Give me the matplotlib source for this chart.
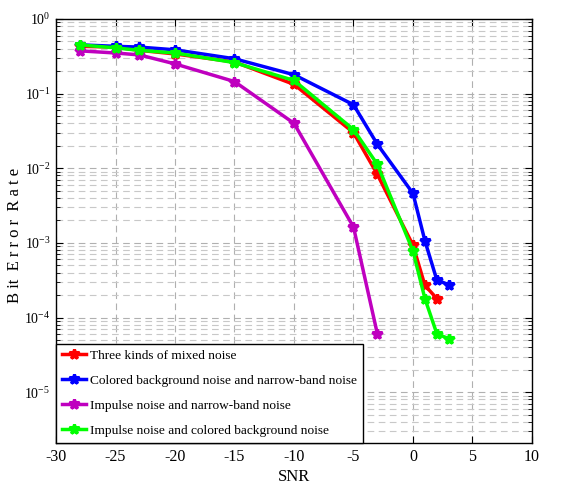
import numpy as np
import matplotlib
matplotlib.use('Agg')
import matplotlib.pyplot as plt
from matplotlib.ticker import LogLocator, NullFormatter

plt.rcParams['font.family'] = ['Liberation Serif', 'DejaVu Serif']
plt.rcParams['mathtext.fontset'] = 'stix'
plt.rcParams['axes.unicode_minus'] = False

# SNR points and BER per noise case
snr_full = [-28, -25, -23, -20, -15, -10, -5, -3, 0, 1, 2, 3]
ber_mixed = [0.43, 0.42, 0.38, 0.34, 0.265, 0.133, 0.030, 0.0083, 0.00093, 0.00027, 0.00018]
ber_colored_nb = [0.45, 0.43, 0.42, 0.386, 0.293, 0.179, 0.071, 0.021, 0.0046, 0.00107, 0.00032, 0.000275]
ber_impulse_nb = [0.374, 0.35, 0.33, 0.25, 0.145, 0.040, 0.00163, 0.000061]
ber_impulse_colored = [0.45, 0.41, 0.38, 0.35, 0.26, 0.15, 0.033, 0.0113, 0.00078, 0.00018, 0.000061, 0.000052]

labels = ['Three kinds of mixed noise',
          'Colored background noise and narrow-band noise',
          'Impulse noise and narrow-band noise',
          'Impulse noise and colored background noise']
colors = ['#FF0000', '#0000FF', '#BF00BF', '#00FF00']
series = [ber_mixed, ber_colored_nb, ber_impulse_nb, ber_impulse_colored]

fig = plt.figure(figsize=(5.68, 4.86), dpi=100)
ax = fig.add_axes([0.0986, 0.0885, 0.838, 0.8725])

for ys, c, lab in zip(series, colors, labels):
    xs = snr_full[:len(ys)]
    ax.plot(xs, ys, color=c, lw=2.5, marker='*', ms=7, mew=2.2, label=lab)

ax.set_yscale('log')
ax.set_xlim(-30, 10)
ax.set_ylim(10 ** -5.68, 1)
ax.set_xticks(np.arange(-30, 11, 5))
ax.yaxis.set_major_locator(LogLocator(base=10, numticks=10))
ax.yaxis.set_minor_locator(LogLocator(base=10, subs=np.arange(2, 10), numticks=20))
ax.yaxis.set_minor_formatter(NullFormatter())

ax.grid(True, which='major', ls=(0, (6, 4)), color='#b0b0b0', lw=0.8)
ax.grid(True, which='minor', axis='y', ls=(0, (6, 4)), color='#c8c8c8', lw=0.8)
ax.set_axisbelow(True)

ax.tick_params(which='both', direction='in', top=True, right=True)
ax.tick_params(axis='x', labelsize=11.5)
ax.tick_params(axis='y', labelsize=10)
ax.tick_params(which='major', length=5, pad=4)
ax.tick_params(which='minor', length=3)
for sp in ax.spines.values():
    sp.set_linewidth(1.0)

ax.set_xlabel('SNR', fontsize=12, labelpad=3)
ax.set_ylabel('B it  E r r o r  R a t e', fontsize=12)
ax.yaxis.set_label_coords(-0.07, 0.49)

leg = ax.legend(loc='lower left', borderaxespad=0, fancybox=False, edgecolor='black',
                framealpha=1, fontsize=9.6, handlelength=1.8, labelspacing=0.95,
                handletextpad=0.3, borderpad=0.45)
leg.get_frame().set_linewidth(1.0)

fig.savefig('out.png', dpi=100)
